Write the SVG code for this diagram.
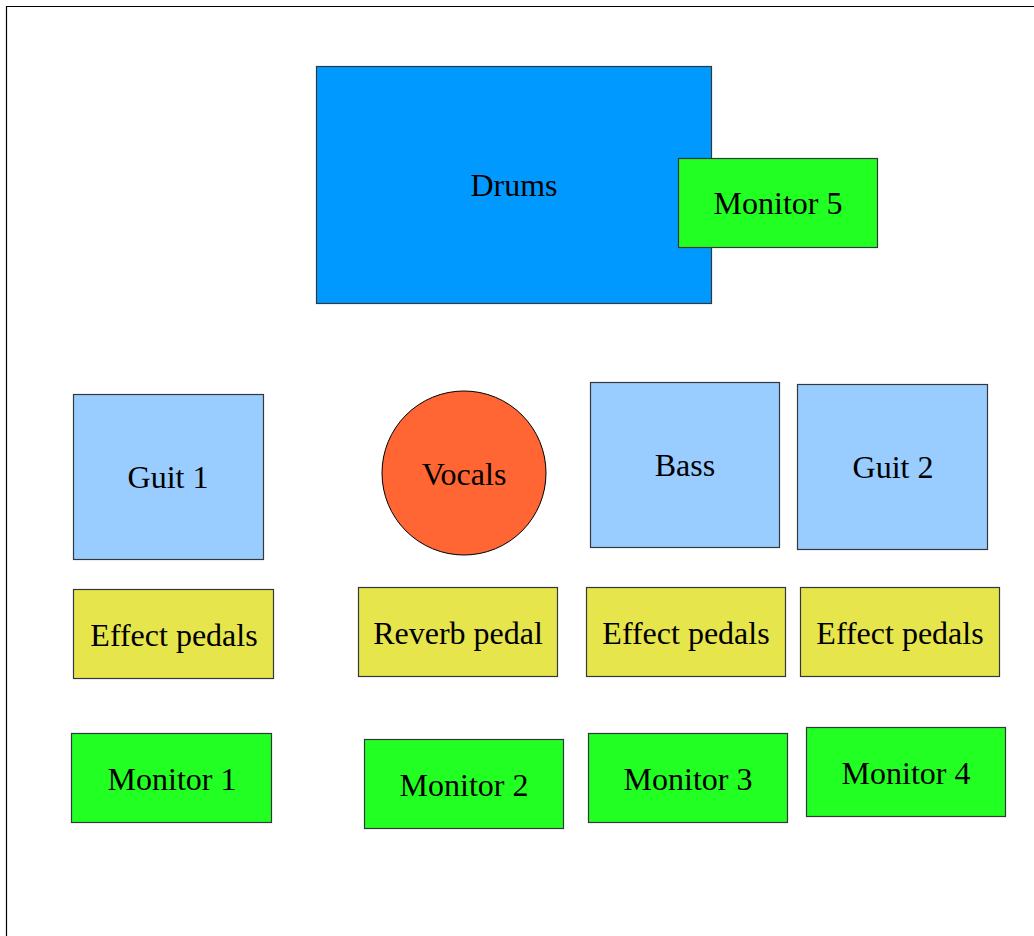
<svg xmlns="http://www.w3.org/2000/svg" width="1034" height="936" viewBox="0 0 1034 936">
<style>
  .box { stroke: #33383e; stroke-width: 1.2; }
  .drum { fill: #0099ff; }
  .mon { fill: #22ff22; }
  .amp { fill: #99ccff; }
  .pedal { fill: #e6e64c; }
  .voc { fill: #ff6633; stroke: #000; stroke-width: 1; }
  text { font-family: "Liberation Serif", "Times New Roman", serif; font-size: 32px; fill: #000; text-anchor: middle; }
</style>
<rect x="0" y="0" width="1034" height="936" fill="#fff"/>
<path d="M6.5 936 V6.5 H1034" fill="none" stroke="#000" stroke-width="1.2"/>
<g id="drums"><rect class="box drum" x="316.5" y="66.5" width="395" height="237"/><text x="514" y="196">Drums</text></g>
<g id="monitor5"><rect class="box mon" x="678.5" y="158.5" width="199" height="89"/><text x="778" y="214">Monitor 5</text></g>
<g id="guit1"><rect class="box amp" x="73.5" y="394.5" width="190" height="165"/><text x="168" y="488">Guit 1</text></g>
<g id="vocals"><circle class="voc" cx="464" cy="473" r="82"/><text x="464" y="485">Vocals</text></g>
<g id="bass"><rect class="box amp" x="590.5" y="382.5" width="189" height="165"/><text x="685" y="476">Bass</text></g>
<g id="guit2"><rect class="box amp" x="797.5" y="384.5" width="190" height="165"/><text x="893" y="478">Guit 2</text></g>
<g id="effect1"><rect class="box pedal" x="73.5" y="589.5" width="200" height="89"/><text x="174" y="646">Effect pedals</text></g>
<g id="reverb"><rect class="box pedal" x="358.5" y="587.5" width="199" height="89"/><text x="458" y="644">Reverb pedal</text></g>
<g id="effect2"><rect class="box pedal" x="586.5" y="587.5" width="199" height="89"/><text x="686" y="644">Effect pedals</text></g>
<g id="effect3"><rect class="box pedal" x="800.5" y="587.5" width="199" height="89"/><text x="900" y="644">Effect pedals</text></g>
<g id="monitor1"><rect class="box mon" x="71.5" y="733.5" width="200" height="89"/><text x="172" y="790">Monitor 1</text></g>
<g id="monitor2"><rect class="box mon" x="364.5" y="739.5" width="199" height="89"/><text x="464" y="796">Monitor 2</text></g>
<g id="monitor3"><rect class="box mon" x="588.5" y="733.5" width="199" height="89"/><text x="688" y="790">Monitor 3</text></g>
<g id="monitor4"><rect class="box mon" x="806.5" y="727.5" width="199" height="89"/><text x="906" y="784">Monitor 4</text></g>
<g id="connectors"></g>
</svg>
